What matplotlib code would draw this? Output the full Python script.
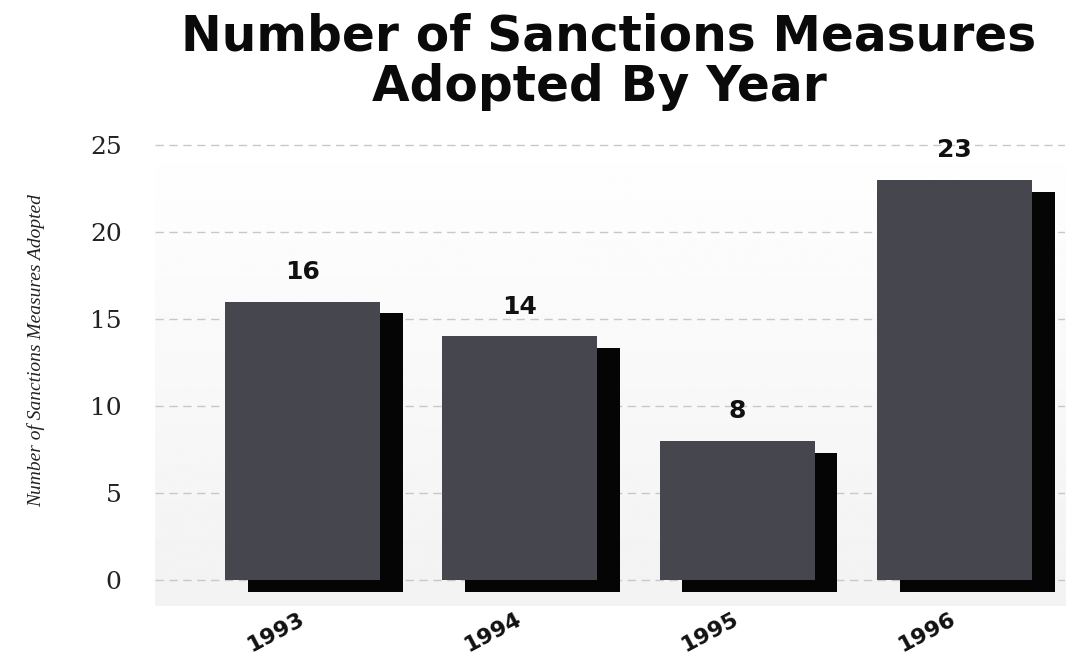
import numpy as np
import matplotlib
matplotlib.use("Agg")
import matplotlib.pyplot as plt
from matplotlib.transforms import ScaledTranslation

# sanctions measures adopted per year
years = ["1993", "1994", "1995", "1996"]
counts = [16, 14, 8, 23]
y_ticks = [0, 5, 10, 15, 20, 25]

bar_color = "#46464e"
shadow_color = "#050505"

fig = plt.figure(figsize=(10.86, 6.62), dpi=100, facecolor="white")
ax = fig.add_axes([0.1427, 0.0846, 0.838, 0.7226])
ax.set_facecolor("white")

x = np.arange(len(years))
width = 0.714
sdx, sdy = 0.105, 0.68  # drop shadow offset (data units)

ax.set_xlim(-0.68, 3.51)
ax.set_ylim(-1.5, 26)

# faint gray wash behind the lower part of the plot
grad = np.linspace(0.95, 1.0, 256).reshape(-1, 1)
ax.imshow(grad, cmap="gray", vmin=0, vmax=1, aspect="auto", origin="lower",
          extent=[-0.68, 3.51, -1.5, 26], zorder=0)

for yv in y_ticks:
    ax.axhline(yv, color="#c8c8c8", lw=1.0, ls=(0, (6, 4)), zorder=1)

# shadow first, then the bar on top
ax.bar(x + sdx, counts, width=width, bottom=-sdy, color=shadow_color, zorder=2)
ax.bar(x, counts, width=width, color=bar_color, zorder=3)

for xi, c in zip(x, counts):
    ax.text(xi, c + 1.0, str(c), ha="center", va="bottom", fontsize=18,
            fontweight="heavy", family="DejaVu Sans", color="#111111")

ax.set_yticks(y_ticks)
ax.set_yticklabels([str(v) for v in y_ticks], family="DejaVu Serif", fontsize=18,
                   color="#222222")
ax.tick_params(axis="y", length=0, pad=24)

ax.set_xticks(x)
ax.set_xticklabels(years, rotation=28, fontsize=16, fontweight="heavy",
                   family="DejaVu Sans", color="#111111")
ax.tick_params(axis="x", length=0, pad=2)
shift = ScaledTranslation(-0.27, 0, fig.dpi_scale_trans)
for lbl in ax.get_xticklabels():
    lbl.set_transform(lbl.get_transform() + shift)

for s in ax.spines.values():
    s.set_visible(False)

fig.text(0.033, 0.47, "Number of Sanctions Measures Adopted", rotation=90,
         ha="center", va="center", fontsize=14, style="italic",
         family="Liberation Serif", color="#222222")

fig.text(0.56, 0.945, "Number of Sanctions Measures", ha="center", va="center",
         fontsize=35, fontweight="heavy", family="DejaVu Sans", color="#0a0a0a")
fig.text(0.552, 0.868, "Adopted By Year", ha="center", va="center",
         fontsize=35, fontweight="heavy", family="DejaVu Sans", color="#0a0a0a")

fig.savefig("out.png", dpi=100, facecolor="white")
